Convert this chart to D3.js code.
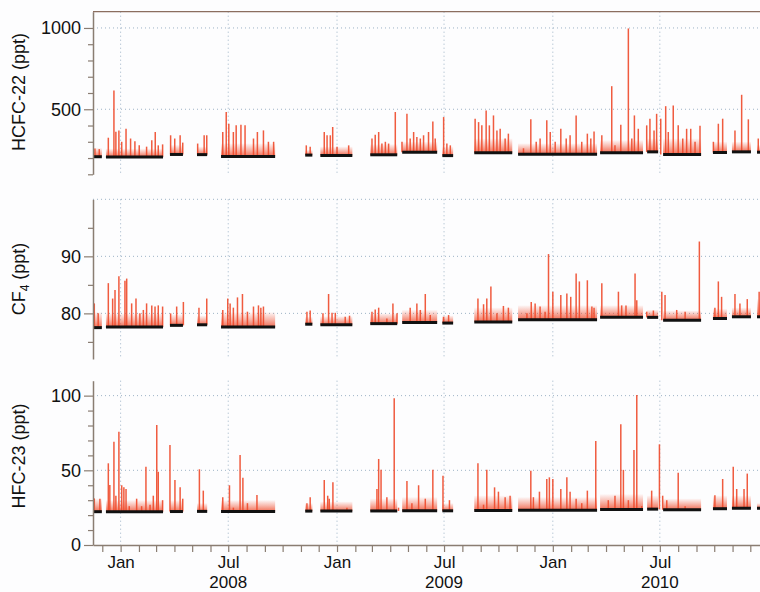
<!DOCTYPE html>
<html>
<head>
<meta charset="utf-8">
<script src="https://cdn.jsdelivr.net/npm/d3@7"></script>
<style>
  body { margin: 0; background: #fdfdfe; }
  svg { display: block; font-family: "Liberation Sans", Arial, sans-serif; }
</style>
</head>
<body>
<svg id="chart" width="760" height="592"></svg>
<script>
// Times are decimal years. Measurement periods are shared by the three gases.
const coverage = [
  [2007.872, 2007.913], [2007.932, 2008.196], [2008.228, 2008.288], [2008.353, 2008.400],
  [2008.464, 2008.714], [2008.853, 2008.886], [2008.923, 2009.071], [2009.154, 2009.279],
  [2009.302, 2009.464], [2009.488, 2009.538], [2009.636, 2009.812], [2009.839, 2010.205],
  [2010.219, 2010.418], [2010.437, 2010.488], [2010.511, 2010.687], [2010.742, 2010.807],
  [2010.830, 2010.918], [2010.946, 2010.975]
]

// baseline (black) and typical polluted level (red haze) for each period
const hcfcBase = [208, 207, 222, 221, 210, 218, 216, 220, 236, 215, 232, 224, 232, 238, 222, 234, 238, 236]
const hcfcHaze = [262, 258, 280, 270, 290, 250, 270, 285, 300, 270, 320, 290, 310, 320, 320, 300, 300, 280]
const cf4Base = [77.5, 77.6, 77.9, 78.0, 77.6, 78.1, 78.0, 78.2, 78.4, 78.3, 78.5, 78.9, 79.3, 79.3, 78.8, 79.1, 79.4, 79.4]
const cf4Haze = [80.2, 80.0, 79.8, 79.6, 80.2, 79.4, 79.5, 80.0, 80.6, 79.6, 81.0, 81.4, 81.4, 80.6, 80.5, 80.8, 81.0, 82.5]
const hfcBase = [22.3, 22.3, 22.4, 22.5, 22.4, 22.7, 22.7, 22.8, 22.9, 22.9, 23.1, 23.3, 23.8, 24.0, 23.6, 24.3, 24.6, 24.6]
const hfcHaze = [31, 30, 30, 28, 30, 28, 29, 31, 32, 28, 33, 32, 34, 33, 31, 33, 33, 28]

// pollution events: [decimal year, peak ppt]
const hcfcSpikes = [
  [2007.881, 258], [2007.901, 255], [2007.943, 325], [2007.969, 615], [2007.978, 362], [2007.992, 370],
  [2008.005, 300], [2008.025, 380], [2008.046, 320], [2008.066, 303], [2008.086, 278], [2008.120, 270],
  [2008.144, 309], [2008.160, 360], [2008.174, 278], [2008.194, 284], [2008.231, 340], [2008.250, 320],
  [2008.275, 340], [2008.287, 295], [2008.356, 289], [2008.386, 340], [2008.398, 340], [2008.472, 360],
  [2008.488, 483], [2008.500, 411], [2008.521, 360], [2008.534, 401], [2008.556, 405], [2008.575, 401],
  [2008.614, 320], [2008.632, 360], [2008.660, 370], [2008.683, 300], [2008.707, 300], [2008.858, 278],
  [2008.876, 270], [2008.941, 360], [2008.954, 340], [2008.969, 340], [2008.980, 391], [2009.000, 270],
  [2009.054, 278], [2009.162, 320], [2009.177, 344], [2009.193, 360], [2009.208, 289], [2009.224, 300],
  [2009.239, 289], [2009.270, 483], [2009.301, 300], [2009.324, 472], [2009.339, 320], [2009.355, 360],
  [2009.370, 330], [2009.386, 320], [2009.401, 340], [2009.424, 360], [2009.444, 425], [2009.455, 320],
  [2009.494, 452], [2009.509, 289], [2009.525, 278], [2009.640, 442], [2009.656, 421], [2009.671, 401],
  [2009.691, 493], [2009.706, 401], [2009.725, 462], [2009.741, 370], [2009.756, 380], [2009.779, 320],
  [2009.794, 350], [2009.864, 260], [2009.898, 438], [2009.923, 300], [2009.941, 320], [2009.972, 432],
  [2009.988, 360], [2010.011, 300], [2010.037, 380], [2010.062, 320], [2010.080, 340], [2010.108, 462],
  [2010.134, 300], [2010.160, 350], [2010.176, 320], [2010.191, 363], [2010.227, 340], [2010.273, 642],
  [2010.288, 278], [2010.315, 405], [2010.350, 997], [2010.366, 320], [2010.378, 462], [2010.396, 380],
  [2010.435, 401], [2010.450, 442], [2010.469, 370], [2010.481, 472], [2010.500, 442], [2010.523, 519],
  [2010.535, 360], [2010.558, 523], [2010.581, 401], [2010.602, 320], [2010.620, 380], [2010.639, 380],
  [2010.659, 300], [2010.682, 398], [2010.744, 300], [2010.767, 411], [2010.787, 442], [2010.844, 370],
  [2010.875, 589], [2010.906, 438], [2010.952, 320]
]
const cf4Spikes = [
  [2007.878, 81.75], [2007.896, 80], [2007.943, 85.3], [2007.963, 82.6], [2007.974, 84.1], [2007.992, 86.5],
  [2008.020, 85.7], [2008.028, 86.1], [2008.051, 81.75], [2008.071, 82.6], [2008.089, 80], [2008.105, 80.6],
  [2008.120, 81.75], [2008.144, 81.4], [2008.159, 81.2], [2008.174, 81.4], [2008.194, 81.2], [2008.231, 80],
  [2008.259, 81.2], [2008.290, 82.0], [2008.362, 81], [2008.398, 82.6], [2008.472, 80.6], [2008.495, 82.6],
  [2008.506, 81.75], [2008.521, 81], [2008.540, 82.8], [2008.563, 83.4], [2008.586, 80.3], [2008.614, 81.2],
  [2008.637, 81.4], [2008.648, 81], [2008.660, 81.2], [2008.861, 80.3], [2008.876, 80.5], [2008.935, 80],
  [2008.961, 83.4], [2008.977, 80.1], [2008.992, 80.1], [2009.038, 79.4], [2009.058, 79.6], [2009.162, 80.3],
  [2009.177, 80.7], [2009.193, 81], [2009.231, 79.1], [2009.259, 81.75], [2009.278, 80], [2009.339, 81],
  [2009.370, 81.75], [2009.386, 80.6], [2009.409, 83.4], [2009.432, 79.7], [2009.494, 79.4], [2009.517, 79.7],
  [2009.653, 82.6], [2009.679, 81.6], [2009.694, 82.6], [2009.713, 84.7], [2009.741, 80], [2009.771, 81.3],
  [2009.794, 81], [2009.880, 80], [2009.900, 82.0], [2009.918, 81.75], [2009.941, 81.2], [2009.964, 80.3],
  [2009.980, 90.4], [2010.000, 83.8], [2010.037, 83.2], [2010.065, 83.5], [2010.083, 82.9], [2010.108, 87.0],
  [2010.123, 85.6], [2010.160, 85.8], [2010.181, 81.2], [2010.191, 81], [2010.227, 85.3], [2010.304, 83.8],
  [2010.319, 81.4], [2010.339, 81.4], [2010.381, 87.0], [2010.389, 82.3], [2010.435, 80.3], [2010.466, 80.5],
  [2010.505, 83.8], [2010.520, 83.2], [2010.574, 80.6], [2010.613, 80.3], [2010.679, 92.6], [2010.751, 81],
  [2010.767, 85.6], [2010.782, 82.9], [2010.844, 83.4], [2010.867, 81.75], [2010.901, 82.5], [2010.956, 83.8]
]
const hfcSpikes = [
  [2007.878, 31.2], [2007.904, 31], [2007.943, 54.7], [2007.950, 40.2], [2007.969, 69.2], [2007.978, 33],
  [2007.992, 75.9], [2008.005, 40], [2008.015, 38.6], [2008.025, 37.5], [2008.040, 26], [2008.074, 31],
  [2008.097, 26], [2008.117, 52.4], [2008.136, 27], [2008.151, 33], [2008.167, 80.3], [2008.174, 49],
  [2008.194, 30], [2008.228, 66.9], [2008.251, 43.5], [2008.275, 38.6], [2008.287, 31], [2008.364, 50.7],
  [2008.382, 36.4], [2008.472, 32], [2008.503, 40], [2008.521, 25], [2008.552, 60.2], [2008.565, 45],
  [2008.586, 28], [2008.630, 33.5], [2008.861, 28], [2008.876, 32], [2008.941, 43.5], [2008.957, 33],
  [2008.964, 31], [2008.981, 42], [2009.046, 25], [2009.185, 37.5], [2009.193, 57.6], [2009.204, 50.3],
  [2009.231, 32], [2009.265, 98.2], [2009.285, 25], [2009.324, 42.8], [2009.347, 28], [2009.378, 40],
  [2009.409, 31], [2009.444, 50.3], [2009.491, 46.4], [2009.521, 30], [2009.653, 54.7], [2009.679, 27],
  [2009.694, 50.3], [2009.730, 38.6], [2009.748, 35.7], [2009.779, 32], [2009.802, 33], [2009.898, 49.7],
  [2009.910, 32], [2009.938, 35.7], [2009.972, 44.2], [2009.984, 45.3], [2010.000, 44.2], [2010.037, 37.5],
  [2010.065, 45.3], [2010.080, 35.7], [2010.108, 31], [2010.134, 28], [2010.160, 36.4], [2010.199, 69.6],
  [2010.257, 30], [2010.288, 33], [2010.315, 80.8], [2010.327, 50.3], [2010.350, 30], [2010.376, 63.6],
  [2010.389, 100.4], [2010.412, 26], [2010.458, 36.4], [2010.494, 67.4], [2010.509, 33], [2010.528, 30],
  [2010.581, 48.4], [2010.613, 26], [2010.751, 33.3], [2010.787, 44.2], [2010.836, 52.4], [2010.852, 37.5],
  [2010.886, 37.5], [2010.901, 47.8]
]

// tick labels
const hcfcTicks = [500, 1000]
const cf4Ticks = [80, 90, 100]
const hfcTicks = [0, 50, 100]
const monthNames = [[0, 'Jan'], [6, 'Jul']]
const years = [2008, 2009, 2010]

const svg = d3.select('#chart')
const left = 93, right = 760
const red = '#ef4a2b'
const gridColor = '#9db3c6'
const axisColor = '#8a7d72'

const toDate = v => {
  const y = Math.floor(v)
  const a = Date.UTC(y, 0, 1), b = Date.UTC(y + 1, 0, 1)
  return new Date(a + (v - y) * (b - a))
}

const x = d3.scaleUtc()
  .domain([toDate(2007.872), toDate(2010.960)])
  .range([left, right])

const panels = [
  {title: 'HCFC-22', base: hcfcBase, haze: hcfcHaze, spikes: hcfcSpikes, ticks: hcfcTicks,
   domain: [100, 1100], range: [174.3, 11.7], step: 100, mid: 92},
  {title: 'CF', sub: '4', base: cf4Base, haze: cf4Haze, spikes: cf4Spikes, ticks: cf4Ticks,
   domain: [72, 100], range: [359, 199.3], step: 5, mid: 279},
  {title: 'HFC-23', base: hfcBase, haze: hfcHaze, spikes: hfcSpikes, ticks: hfcTicks,
   domain: [0, 110], range: [545, 380.7], step: 10, mid: 456}
]

//Vertical gradient imitates the dense red trace near the baseline
const defs = svg.append('defs')
const grad = defs.append('linearGradient')
    .attr('id', 'haze')
    .attr('x1', 0).attr('y1', 1).attr('x2', 0).attr('y2', 0)
grad.append('stop').attr('offset', 0).attr('stop-color', red).attr('stop-opacity', 0.8)
grad.append('stop').attr('offset', 0.5).attr('stop-color', red).attr('stop-opacity', 0.4)
grad.append('stop').attr('offset', 1).attr('stop-color', red).attr('stop-opacity', 0.03)
defs.append('clipPath').attr('id', 'clip')
  .append('rect').attr('x', left).attr('y', 0).attr('width', right - left).attr('height', 592)

const gridDates = x.ticks(d3.utcMonth.every(6))

panels.forEach(p => {
  const y = d3.scaleLinear().domain(p.domain).range(p.range)
  const g = svg.append('g')
  const plot = g.append('g').attr('clip-path', 'url(#clip)')

  // dotted grid
  plot.selectAll('.vgrid').data(gridDates).join('line')
      .attr('x1', d => x(d)).attr('x2', d => x(d))
      .attr('y1', p.range[1]).attr('y2', p.range[0])
      .attr('stroke', gridColor).attr('stroke-width', 1).attr('stroke-dasharray', '1,3')
  plot.selectAll('.hgrid').data(p.ticks.filter(t => t > p.domain[0])).join('line')
      .attr('x1', left).attr('x2', right)
      .attr('y1', d => y(d)).attr('y2', d => y(d))
      .attr('stroke', gridColor).attr('stroke-width', 1).attr('stroke-dasharray', '1,3')

  // red haze between baseline and typical polluted level
  plot.selectAll('.haze').data(coverage).join('rect')
      .attr('x', d => x(toDate(d[0])))
      .attr('width', d => x(toDate(d[1])) - x(toDate(d[0])))
      .attr('y', (d, i) => y(p.haze[i]))
      .attr('height', (d, i) => y(p.base[i]) - y(p.haze[i]))
      .attr('fill', 'url(#haze)')

  // pollution spikes from the baseline of their period
  const baseAt = t => {
    let best = 0, bd = Infinity
    coverage.forEach((c, i) => {
      const d = t < c[0] ? c[0] - t : t > c[1] ? t - c[1] : 0
      if (d < bd) { bd = d; best = i }
    })
    return p.base[best]
  }
  plot.selectAll('.spike').data(p.spikes).join('line')
      .attr('x1', d => x(toDate(d[0]))).attr('x2', d => x(toDate(d[0])))
      .attr('y1', d => y(baseAt(d[0]))).attr('y2', d => y(d[1]))
      .attr('stroke', red).attr('stroke-width', 1.5).attr('opacity', 0.9)

  // baseline points
  plot.selectAll('.base').data(coverage).join('line')
      .attr('x1', d => x(toDate(d[0]))).attr('x2', d => x(toDate(d[1])))
      .attr('y1', (d, i) => y(p.base[i])).attr('y2', (d, i) => y(p.base[i]))
      .attr('stroke', '#111').attr('stroke-width', 3)

  // y axis
  const minor = d3.range(Math.ceil(p.domain[0] / p.step) * p.step, p.domain[1], p.step)
  const axis = d3.axisLeft(y).tickValues(minor).tickSize(5).tickPadding(7).tickSizeOuter(0)
    .tickFormat(d => p.ticks.includes(d) ? d : '')
  const ag = g.append('g').attr('transform', `translate(${left},0)`).call(axis)
  ag.select('.domain').attr('stroke', axisColor).attr('stroke-width', 1.5)
  ag.selectAll('.tick line').attr('stroke', axisColor).attr('stroke-width', 1.2)
    .attr('x2', d => p.ticks.includes(d) ? -9 : -5)
  ag.selectAll('.tick text').attr('font-size', 18).attr('fill', '#111')
    .attr('font-family', '"Liberation Sans", Arial, sans-serif')

  // axis title
  const title = g.append('text')
      .attr('transform', `translate(25,${p.mid}) rotate(-90)`)
      .attr('text-anchor', 'middle')
      .attr('font-size', 18).attr('fill', '#111')
  title.append('tspan').text(p.title)
  if (p.sub) {
    title.append('tspan').text(p.sub).attr('font-size', 12).attr('dy', 4)
    title.append('tspan').text(' (ppt)').attr('dy', -4)
  } else {
    title.append('tspan').text(' (ppt)')
  }
})

// frame line on top of the first panel
svg.append('line')
    .attr('x1', left).attr('x2', right).attr('y1', 11.7).attr('y2', 11.7)
    .attr('stroke', '#8b6e5f').attr('stroke-width', 1.3)

// time axis under the last panel
const monthLabel = new Map(monthNames)
const xAxis = d3.axisBottom(x)
  .ticks(d3.utcMonth.every(1))
  .tickSize(7).tickPadding(4).tickSizeOuter(0)
  .tickFormat(d => monthLabel.get(d.getUTCMonth()) || '')
const xg = svg.append('g').attr('transform', 'translate(0,545)').call(xAxis)
xg.select('.domain').attr('stroke', axisColor).attr('stroke-width', 1.5)
xg.selectAll('.tick line').attr('stroke', axisColor).attr('stroke-width', 1.2)
xg.selectAll('.tick text').attr('font-size', 17).attr('fill', '#111')
  .attr('font-family', '"Liberation Sans", Arial, sans-serif')

svg.selectAll('.year').data(years).join('text')
    .attr('x', d => x(Date.UTC(d, 6, 1)))
    .attr('y', 588)
    .attr('text-anchor', 'middle')
    .attr('font-size', 17).attr('fill', '#111')
    .text(d => d)
</script>
</body>
</html>
